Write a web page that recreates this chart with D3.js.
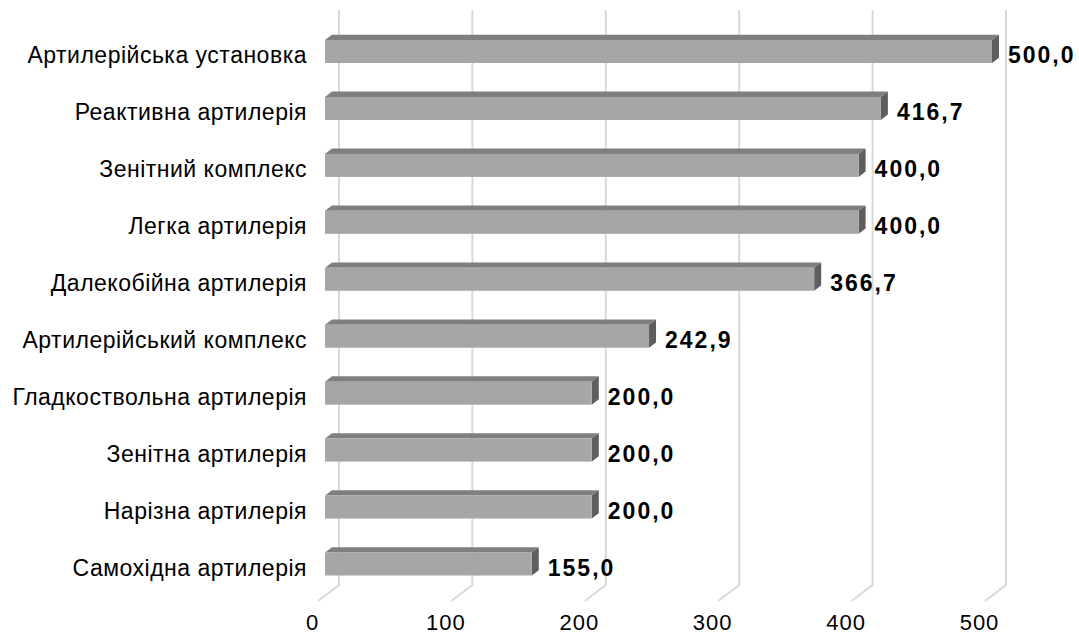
<!DOCTYPE html>
<html>
<head>
<meta charset="utf-8">
<script src="https://cdn.jsdelivr.net/npm/d3@7"></script>
<style>
  html, body { margin: 0; padding: 0; background: #fff; }
  svg { display: block; }
  text { font-family: "Liberation Sans", Arial, Helvetica, sans-serif; fill: #000; }
</style>
</head>
<body>
<svg id="chart" width="1079" height="635"></svg>
<script>
// Categories (top to bottom) and their values
const categories = [
  "Артилерійська установка",
  "Реактивна артилерія",
  "Зенітний комплекс",
  "Легка артилерія",
  "Далекобійна артилерія",
  "Артилерійський комплекс",
  "Гладкоствольна артилерія",
  "Зенітна артилерія",
  "Нарізна артилерія",
  "Самохідна артилерія"
];
const values = [500.0, 416.7, 400.0, 400.0, 366.7, 242.9, 200.0, 200.0, 200.0, 155.0];
const ticks = [0, 100, 200, 300, 400, 500];

const svg = d3.select("#chart");

// Pseudo-3D geometry: back wall origin and depth vector (full depth)
const backX = 339;
const depth = { dx: -21, dy: 16 };
const gridTop = 10, gridBottom = 585;
const barH = 23;

const x = d3.scaleLinear().domain([0, 500]).range([0, 667]);
const y = d3.scalePoint().domain(categories).range([51.5, 564]);

const fmt = v => d3.format(".1f")(v).replace(".", ",");

// Gridlines: vertical on back wall, slanted across the floor
const grid = svg.append("g");
ticks.forEach(t => {
  const gx = backX + x(t);
  grid.append("path")
    .attr("d", `M${gx},${gridTop}L${gx},${gridBottom}L${gx + depth.dx},${gridBottom + depth.dy}`)
    .attr("fill", "none")
    .attr("stroke", "#d9d9d9")
    .attr("stroke-width", 2);
});

// Tick labels
svg.append("g").selectAll("text").data(ticks).join("text")
  .attr("x", t => backX + x(t) + depth.dx - 5.5)
  .attr("y", 630)
  .attr("text-anchor", "middle")
  .attr("font-size", 22)
  .attr("letter-spacing", 1)
  .text(t => t);

// Bars occupy the middle third of the depth
const fx = backX + depth.dx * 2 / 3;          // front face x origin
const bdx = -depth.dx / 3, bdy = depth.dy / 3; // shift from front to back of a bar

const bars = svg.append("g").selectAll("g").data(categories).join("g");

bars.each(function(c, i) {
  const g = d3.select(this);
  const x0 = fx, x1 = fx + x(values[i]);
  const top = y(c) - barH / 2, bot = y(c) + barH / 2;
  // top face
  g.append("path")
    .attr("d", `M${x0},${top}L${x0 + bdx},${top - bdy}L${x1 + bdx},${top - bdy}L${x1},${top}Z`)
    .attr("fill", "#7f7f7f");
  // end face
  g.append("path")
    .attr("d", `M${x1},${top}L${x1 + bdx},${top - bdy}L${x1 + bdx},${bot - bdy}L${x1},${bot}Z`)
    .attr("fill", "#5e5e5e");
  // front face
  g.append("rect")
    .attr("x", x0).attr("y", top)
    .attr("width", x1 - x0).attr("height", barH)
    .attr("fill", "#a6a6a6");
});

// Value labels
svg.append("g").selectAll("text").data(categories).join("text")
  .attr("x", (c, i) => fx + x(values[i]) + 16)
  .attr("y", c => y(c) + 11.5)
  .attr("font-size", 23)
  .attr("font-weight", "bold")
  .attr("letter-spacing", 2)
  .text((c, i) => fmt(values[i]));

// Category labels
svg.append("g").selectAll("text").data(categories).join("text")
  .attr("x", 307)
  .attr("y", c => y(c) + 11.5)
  .attr("text-anchor", "end")
  .attr("font-size", 23)
  .attr("letter-spacing", 0.5)
  .text(c => c);
</script>
</body>
</html>
